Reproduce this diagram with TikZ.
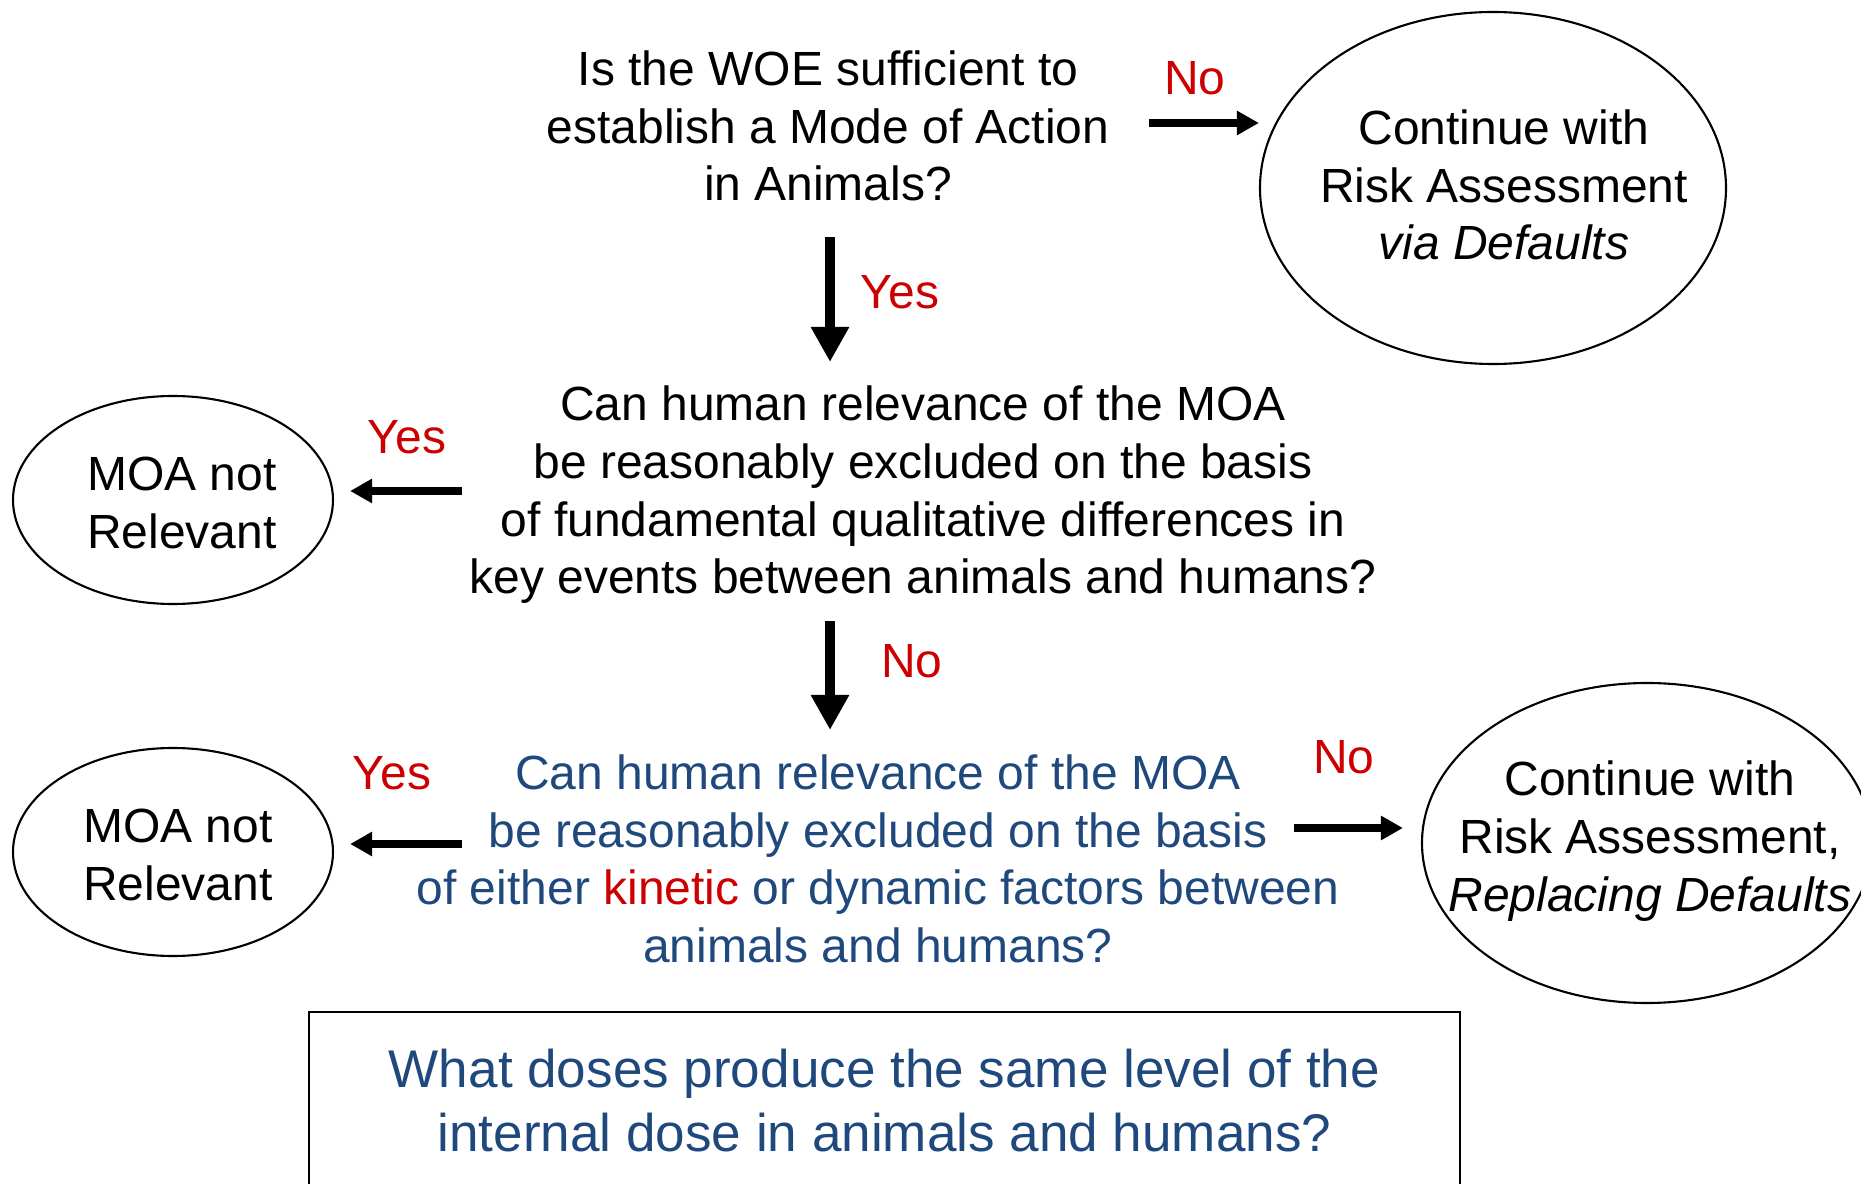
\documentclass[tikz,border=0pt]{standalone}
\usepackage{fontspec}
\setmainfont{Liberation Sans}
\usepackage{tikz}
\usetikzlibrary{shapes.geometric,arrows.meta,positioning}
\definecolor{qBlue}{RGB}{31,73,125}
\definecolor{ansRed}{RGB}{204,0,0}
\tikzset{
  qtxt/.style={align=center,inner sep=0pt,font=\fontsize{13.65}{16.4}\selectfont},
  endoval/.style={draw,ellipse,line width=0.6pt,inner sep=0pt},
  ans/.style={text=ansRed,inner sep=0pt,font=\fontsize{13.65}{16.4}\selectfont},
  varr/.style={-{Triangle[length=0.35cm,width=0.36cm]},line width=2.9pt},
  harr/.style={-{Triangle[length=0.22cm,width=0.23cm]},line width=2pt},
}
\begin{document}
\begin{tikzpicture}
  \useasboundingbox (0,0) rectangle (18.61,-11.84);
  % questions
  \node[qtxt] (q1) at (8.28,-1.26) {Is the WOE sufficient to\\establish a Mode of Action\\in Animals?};
  \node[qtxt] (q2) at (9.23,-4.95) {Can human relevance of the MOA\\be reasonably excluded on the basis\\of fundamental qualitative differences in\\key events between animals and humans?};
  \node[qtxt,text=qBlue] (q3) at (8.78,-8.59) {Can human relevance of the MOA\\be reasonably excluded on the basis\\of either \textcolor{ansRed}{kinetic} or dynamic factors between\\animals and humans?};
  % outcomes
  \node[endoval,minimum width=4.66cm,minimum height=3.52cm] (e1) at (14.93,-1.88) {};
  \node[qtxt] (e1t) at (15.04,-1.85) {Continue with\\Risk Assessment\\\textit{via Defaults}};
  \node[endoval,minimum width=3.20cm,minimum height=2.08cm] (e2) at (1.73,-5.00) {};
  \node[qtxt] (e2t) at (1.82,-5.03) {MOA not\\Relevant};
  \node[endoval,minimum width=3.20cm,minimum height=2.08cm] (e3) at (1.73,-8.52) {};
  \node[qtxt] (e3t) at (1.78,-8.55) {MOA not\\Relevant};
  \node[endoval,minimum width=4.50cm,minimum height=3.20cm] (e4) at (16.47,-8.43) {};
  \node[qtxt] (e4t) at (16.50,-8.41) {Continue with\\Risk Assessment,\\\textit{Replacing Defaults}};
  \node[draw,line width=0.7pt,minimum width=11.51cm,minimum height=1.78cm,inner sep=0pt,
        align=center,text=qBlue,font=\fontsize{15.1}{18.2}\selectfont] (dose) at (8.845,-11.01)
        {What doses produce the same level of the\\internal dose in animals and humans?};
  % connectors
  \coordinate (n1s) at (11.49,-1.23);
  \coordinate (y1s) at (8.30,-2.37);
  \coordinate (y1e) at (8.30,-3.62);
  \coordinate (y2s) at (4.62,-4.91);
  \coordinate (n2s) at (8.30,-6.21);
  \coordinate (n2e) at (8.30,-7.30);
  \coordinate (y3s) at (4.62,-8.44);
  \coordinate (n3s) at (12.94,-8.28);
  \draw[harr] (n1s) -- (n1s -| e1.west);
  \draw[varr] (y1s) -- (y1e);
  \draw[harr,shorten >=0.16cm] (y2s) -- (y2s -| e2.east);
  \draw[varr] (n2s) -- (n2e);
  \draw[harr,shorten >=0.16cm] (y3s) -- (y3s -| e3.east);
  \draw[harr,shorten >=0.18cm] (n3s) -- (n3s -| e4.west);
  % answers
  \node[ans] (l1) at (11.95,-0.78) {No};
  \node[ans] (l2) at (9.00,-2.92) {Yes};
  \node[ans] (l3) at (4.07,-4.37) {Yes};
  \node[ans] (l4) at (9.12,-6.61) {No};
  \node[ans] (l5) at (3.92,-7.73) {Yes};
  \node[ans] (l6) at (13.44,-7.57) {No};
\end{tikzpicture}
\end{document}
